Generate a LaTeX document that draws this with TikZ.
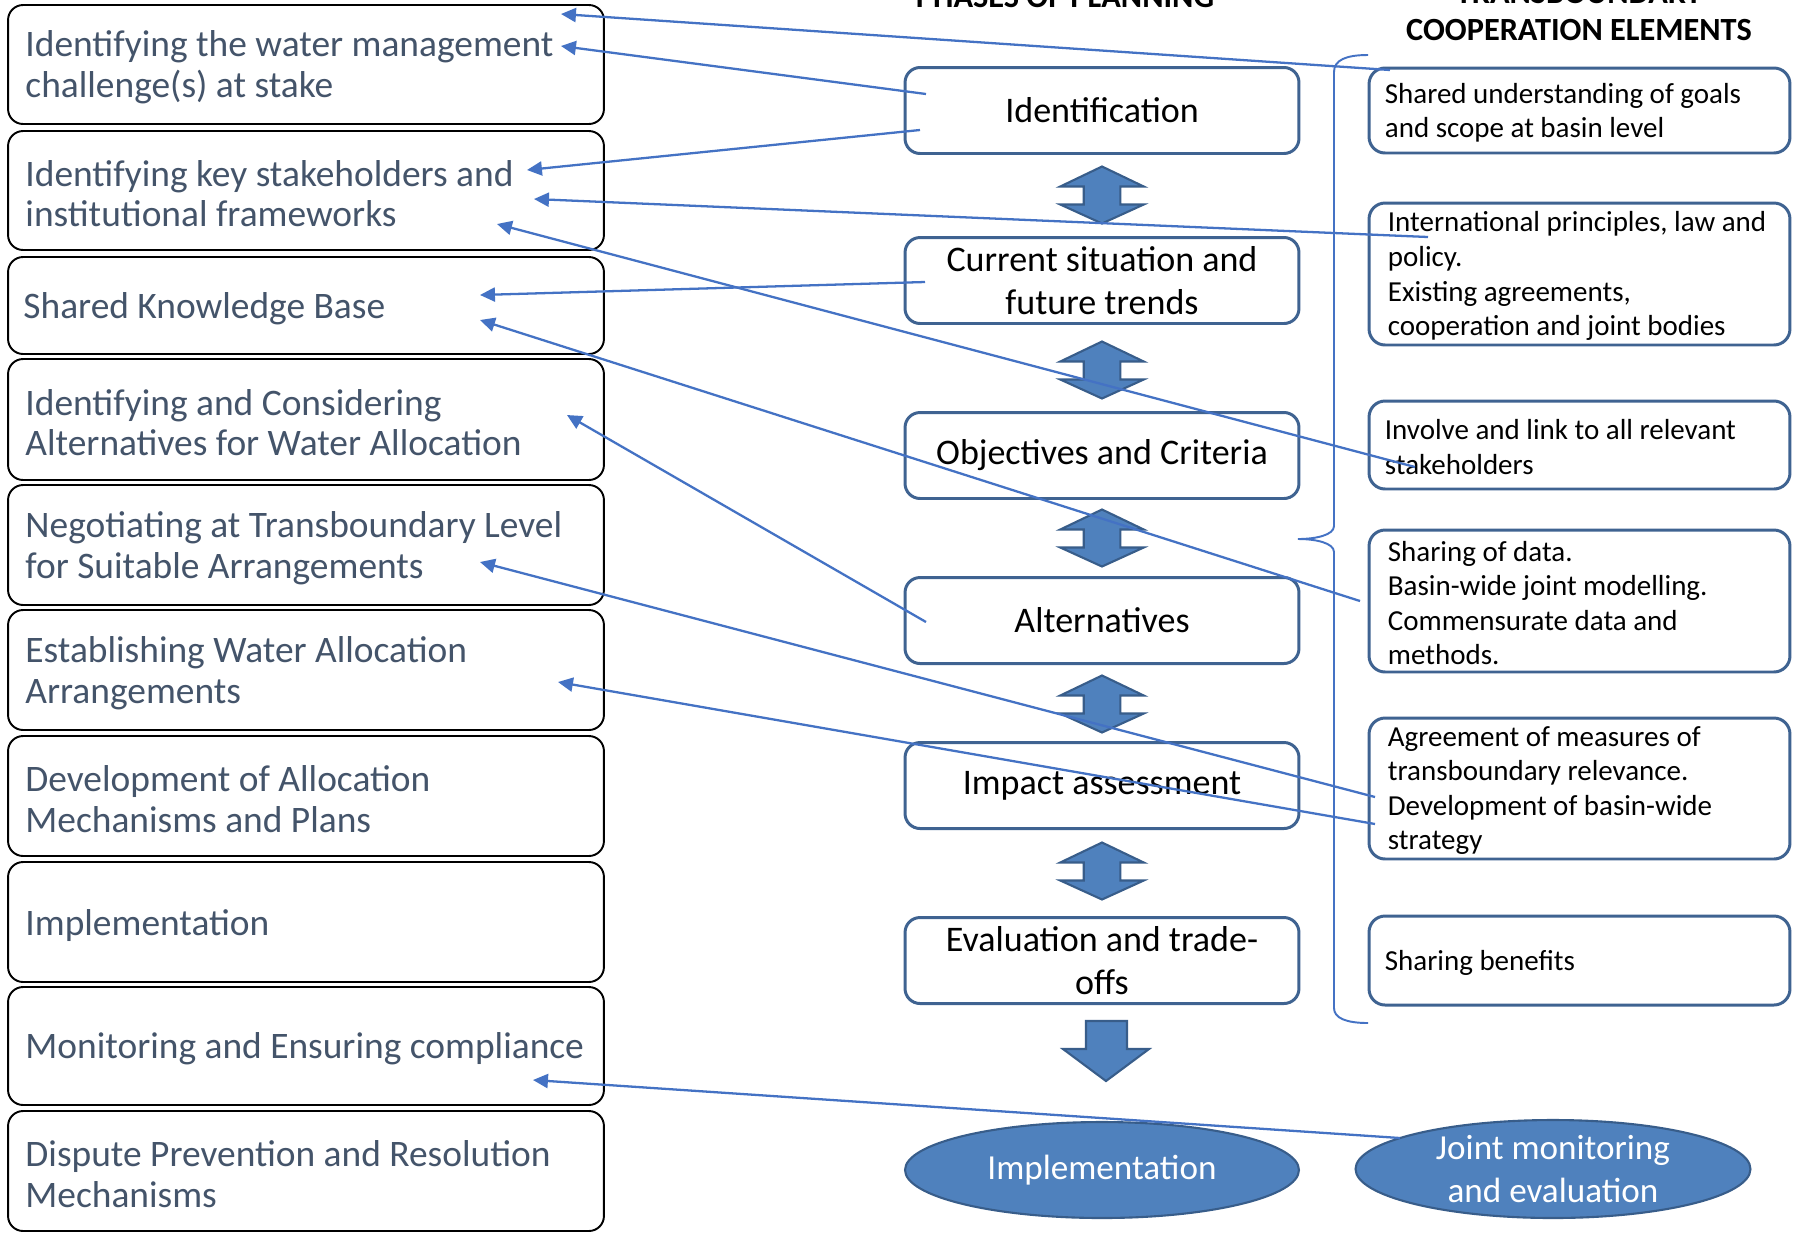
\documentclass[tikz,border=0pt]{standalone}
\usepackage{fontspec}
\setmainfont{Carlito}
\usetikzlibrary{arrows.meta,shapes.geometric}
\definecolor{slate}{HTML}{44546A}
\definecolor{lineblue}{HTML}{4472C4}
\definecolor{boxedge}{HTML}{3F6391}
\definecolor{afill}{HTML}{4F81BD}
\definecolor{aedge}{HTML}{385D8A}
\begin{document}
\begin{tikzpicture}[x=0.02cm,y=-0.02cm,
  lbox/.style={draw=black,line width=1.1pt,rounded corners=0.3cm,minimum width=11.92cm,inner sep=0pt},
  ltext/.style={anchor=west,align=left,inner sep=0pt,text=slate,yshift=-1.8pt,font=\fontsize{21.3}{23.3}\selectfont},
  mbox/.style={draw=boxedge,line width=1.7pt,rounded corners=0.3cm,minimum width=7.88cm,minimum height=1.72cm,align=center,inner sep=0pt,font=\fontsize{20.5}{24.7}\selectfont},
  rbox/.style={draw=boxedge,line width=1.7pt,rounded corners=0.32cm,minimum width=8.42cm,inner sep=0pt},
  rtext/.style={anchor=west,align=left,inner sep=0pt,yshift=-1.2pt,font=\fontsize{16.5}{19.7}\selectfont},
  oval/.style={ellipse,draw=aedge,line width=1.2pt,fill=afill,text=white,align=center,inner sep=0pt,font=\fontsize{20}{24.7}\selectfont},
  arrowfill/.style={fill=afill,draw=aedge,line width=1.2pt,line join=miter},
  conn/.style={draw=lineblue,line width=1.3pt,-{Triangle[length=8.5pt,width=8pt]}},
  head/.style={font=\bfseries\fontsize{18.4}{22}\selectfont,inner sep=0pt,anchor=base},
  dblarrow/.pic={\path[arrowfill] (0,-28.5) -- (41.7,-8.5) -- (18.3,-8.5) -- (18.3,9.5) -- (41.7,9.5) -- (0,28.5) -- (-41.7,9.5) -- (-18.3,9.5) -- (-18.3,-8.5) -- (-41.7,-8.5) -- cycle;}
]
\clip (0,0) rectangle (1796,1232);
\fill[white] (0,0) rectangle (1796,1232);

% headers
\node[head] (H1) at (1065,7) {PHASES OF PLANNING};
\node[head] (H2a) at (1579,3) {TRANSBOUNDARY};
\node[head] (H2b) at (1579,40) {COOPERATION ELEMENTS};

% left column
\node[lbox,minimum height=2.38cm] (L1) at (306,64.5) {};
\node[lbox,minimum height=2.38cm] (L2) at (306,190.5) {};
\node[lbox,minimum height=1.94cm] (L3) at (306,305.5) {};
\node[lbox,minimum height=2.42cm] (L4) at (306,419.5) {};
\node[lbox,minimum height=2.40cm] (L5) at (306,545) {};
\node[lbox,minimum height=2.40cm] (L6) at (306,670) {};
\node[lbox,minimum height=2.40cm] (L7) at (306,796) {};
\node[lbox,minimum height=2.40cm] (L8) at (306,922) {};
\node[lbox,minimum height=2.36cm] (L9) at (306,1046) {};
\node[lbox,minimum height=2.40cm] (L10) at (306,1171) {};
\node[ltext] (L1t) at ([xshift=0.36cm]L1.west) {Identifying the water management\\challenge(s) at stake};
\node[ltext] (L2t) at ([xshift=0.36cm]L2.west) {Identifying key stakeholders and\\institutional frameworks};
\node[ltext] (L3t) at ([xshift=0.32cm]L3.west) {Shared Knowledge Base};
\node[ltext] (L4t) at ([xshift=0.36cm]L4.west) {Identifying and Considering\\Alternatives for Water Allocation};
\node[ltext] (L5t) at ([xshift=0.36cm]L5.west) {Negotiating at Transboundary Level\\for Suitable Arrangements};
\node[ltext] (L6t) at ([xshift=0.36cm]L6.west) {Establishing Water Allocation\\Arrangements};
\node[ltext] (L7t) at ([xshift=0.36cm]L7.west) {Development of Allocation\\Mechanisms and Plans};
\node[ltext] (L8t) at ([xshift=0.36cm]L8.west) {Implementation};
\node[ltext] (L9t) at ([xshift=0.36cm]L9.west) {Monitoring and Ensuring compliance};
\node[ltext] (L10t) at ([xshift=0.36cm]L10.west) {Dispute Prevention and Resolution\\Mechanisms};

% middle column
\node[mbox] (M1) at (1102,110.5) {Identification};
\node[mbox] (M2) at (1102,280.5) {Current situation and\\future trends};
\node[mbox] (M3) at (1102,455.5) {Objectives and Criteria};
\node[mbox] (M4) at (1102,620.5) {Alternatives};
\node[mbox] (M5) at (1102,785.5) {Impact assessment};
\node[mbox] (M6) at (1102,960.5) {Evaluation and trade-\\offs};

\pic at (1102,195) {dblarrow};
\pic at (1102,370) {dblarrow};
\pic at (1102,538) {dblarrow};
\pic at (1102,704) {dblarrow};
\pic at (1102,871) {dblarrow};
\path[arrowfill] (1086,1021) -- (1127,1021) -- (1127,1049) -- (1149,1049) -- (1106,1081) -- (1063,1049) -- (1086,1049) -- cycle;

\node[oval,minimum width=7.88cm,minimum height=1.92cm] (E1) at (1102,1170) {Implementation};
\node[oval,minimum width=7.9cm,minimum height=1.96cm] (E2) at (1553,1169) {Joint monitoring\\and evaluation};

% right column
\node[rbox,minimum height=1.70cm] (R1) at (1579.5,110.5) {};
\node[rbox,minimum height=2.84cm] (R2) at (1579.5,274) {};
\node[rbox,minimum height=1.76cm] (R3) at (1579.5,445) {};
\node[rbox,minimum height=2.84cm] (R4) at (1579.5,601) {};
\node[rbox,minimum height=2.82cm] (R5) at (1579.5,788.5) {};
\node[rbox,minimum height=1.78cm] (R6) at (1579.5,960.5) {};
\node[rtext] (R1t) at ([xshift=0.34cm]R1.west) {Shared understanding of goals\\and scope at basin level};
\node[rtext] (R2t) at ([xshift=0.40cm]R2.west) {International principles, law and\\policy.\\Existing agreements,\\cooperation and joint bodies};
\node[rtext] (R3t) at ([xshift=0.34cm]R3.west) {Involve and link to all relevant\\stakeholders};
\node[rtext] (R4t) at ([xshift=0.40cm]R4.west) {Sharing of data.\\Basin-wide joint modelling.\\Commensurate data and\\methods.};
\node[rtext] (R5t) at ([xshift=0.40cm]R5.west) {Agreement of measures of\\transboundary relevance.\\Development of basin-wide\\strategy};
\node[rtext] (R6t) at ([xshift=0.34cm]R6.west) {Sharing benefits};

% brace
\draw[lineblue,line width=1.1pt] (1368,55) .. controls (1346,55) and (1334,60) .. (1334,72) -- (1334,526) .. controls (1334,535) and (1316,539) .. (1298,539) .. controls (1316,539) and (1334,543) .. (1334,552) -- (1334,1008) .. controls (1334,1018) and (1346,1023) .. (1368,1023);

% connector end points
\coordinate (s1) at (1390,70);   \coordinate (e1) at (561,14);
\coordinate (s2) at (926,94);    \coordinate (e2) at (561,46);
\coordinate (s3) at (920,130);   \coordinate (e3) at (527,170);
\coordinate (s4) at (1428,237);  \coordinate (e4) at (534,199);
\coordinate (s5) at (1415,467);  \coordinate (e5) at (497,224);
\coordinate (s6) at (925,282);   \coordinate (e6) at (480,295);
\coordinate (s7) at (1360,601);  \coordinate (e7) at (480,320);
\coordinate (s8) at (926,622);   \coordinate (e8) at (567,415);
\coordinate (s9) at (1375,797);  \coordinate (e9) at (480,562);
\coordinate (s10) at (1375,824); \coordinate (e10) at (558,682);
\coordinate (s11) at (1400,1138);\coordinate (e11) at (533,1080);
\foreach \i in {1,...,11} {\draw[conn] (s\i) -- (e\i);}
\end{tikzpicture}
\end{document}
